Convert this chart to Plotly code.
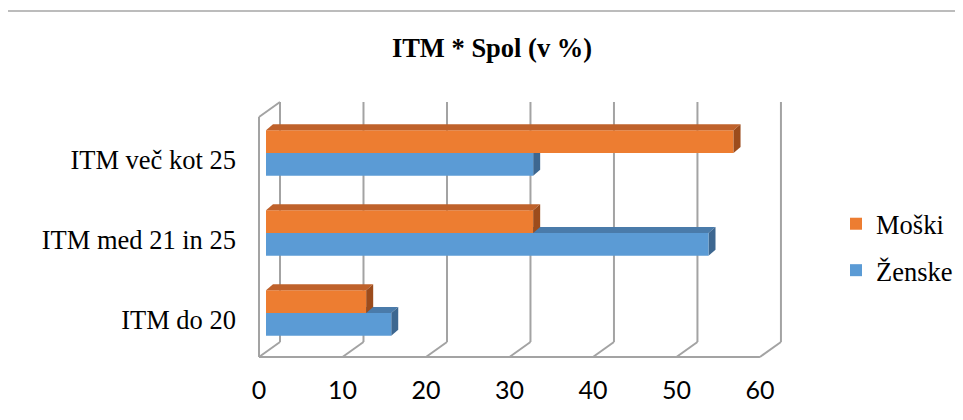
import plotly.graph_objects as go

# ---------------- data ----------------
categories = ["ITM do 20", "ITM med 21 in 25", "ITM več kot 25"]
moski = [12, 32, 56]
zenske = [15, 53, 32]
x_ticks = [0, 10, 20, 30, 40, 50, 60]
series_names = ["Moški", "Ženske"]
title_text = "ITM * Spol (v %)"

# ---------------- geometry (page pixels -> figure / axis units) ----------------
OFF = 8                      # page body margin
W, H = 963 - OFF, 420 - OFF
ML, MR = 253 - OFF, 173
MT, MB = 98 - OFF, 59
PPX = 8.349                  # pixels per x unit
PPY = 80.0                   # pixels per category
plot_w = W - ML - MR
plot_h = H - MT - MB
x0 = -6 / PPX
x1 = x0 + plot_w / PPX
y_top = 2.725 + 4 / PPY
y_bot = y_top - plot_h / PPY

FLOOR_DX = 21 / PPX
FLOOR_DY = 15 / PPY
BAR_BASE = 7 / PPX
BAR_LIFT = 7 / PPY
FACE_DX = 7 / PPX
FACE_DY = 6 / PPY
BAR_W = 22.7 / PPY

y_front_floor = -0.4625
y_wall_top = y_front_floor + 240 / PPY

ORANGE, ORANGE_TOP, ORANGE_SIDE = "#ED7D31", "#BF622B", "#9C4C1C"
BLUE, BLUE_TOP, BLUE_SIDE = "#5B9BD5", "#4A7BAA", "#3D6790"
GRID = "#A3A3A3"

fig = go.Figure()
bar_y = [i + BAR_LIFT for i in range(len(categories))]
fig.add_trace(go.Bar(y=bar_y, x=zenske, base=BAR_BASE, orientation="h", name=series_names[1],
                     marker=dict(color=BLUE, line=dict(width=0)), legendrank=2, legendgroup="z"))
fig.add_trace(go.Bar(y=bar_y, x=moski, base=BAR_BASE, orientation="h", name=series_names[0],
                     marker=dict(color=ORANGE, line=dict(width=0)), legendrank=1, legendgroup="m"))

shapes = []
line = dict(color=GRID, width=2)
for v in x_ticks:
    shapes.append(dict(type="line", xref="x", yref="y", x0=v + FLOOR_DX, x1=v + FLOOR_DX,
                       y0=y_front_floor + FLOOR_DY, y1=y_wall_top + FLOOR_DY, line=line, layer="below"))
    shapes.append(dict(type="line", xref="x", yref="y", x0=v, x1=v + FLOOR_DX,
                       y0=y_front_floor, y1=y_front_floor + FLOOR_DY, line=line, layer="below"))
shapes.append(dict(type="line", xref="x", yref="y", x0=x_ticks[0], x1=x_ticks[-1],
                   y0=y_front_floor, y1=y_front_floor, line=line, layer="below"))
shapes.append(dict(type="line", xref="x", yref="y", x0=0, x1=0,
                   y0=y_front_floor, y1=y_wall_top, line=line, layer="below"))
shapes.append(dict(type="line", xref="x", yref="y", x0=0, x1=FLOOR_DX,
                   y0=y_wall_top, y1=y_wall_top + FLOOR_DY, line=line, layer="below"))


def faces(vals, center_shift, top_col, side_col, layer):
    out = []
    for i, v in enumerate(vals):
        yc = bar_y[i] + center_shift
        yb, yt = yc - BAR_W / 2, yc + BAR_W / 2
        xa, xb = BAR_BASE, BAR_BASE + v
        top = (f"M {xa},{yt} L {xa + FACE_DX},{yt + FACE_DY} L {xb + FACE_DX},{yt + FACE_DY} "
               f"L {xb},{yt} Z")
        side = (f"M {xb},{yb} L {xb},{yt} L {xb + FACE_DX},{yt + FACE_DY} "
                f"L {xb + FACE_DX},{yb + FACE_DY} Z")
        out.append(dict(type="path", xref="x", yref="y", path=top, fillcolor=top_col,
                        line=dict(width=0), layer=layer))
        out.append(dict(type="path", xref="x", yref="y", path=side, fillcolor=side_col,
                        line=dict(width=0), layer=layer))
    return out


shapes += faces(zenske, -BAR_W / 2, BLUE_TOP, BLUE_SIDE, "below")
shapes += faces(moski, BAR_W / 2, ORANGE_TOP, ORANGE_SIDE, "above")

# chart border (page pixel positions)
px2paper_x = lambda px: (px - OFF - ML) / plot_w
px2paper_y = lambda py: (H - MB - (py - OFF)) / plot_h
shapes.append(dict(type="rect", xref="paper", yref="paper",
                   x0=px2paper_x(7), x1=px2paper_x(1000), y0=px2paper_y(470), y1=px2paper_y(11),
                   line=dict(color="#A6A6A6", width=1.5), fillcolor="rgba(0,0,0,0)", layer="below"))

fig.update_layout(
    width=W, height=H,
    margin=dict(l=ML, r=MR, t=MT, b=MB, autoexpand=False),
    paper_bgcolor="white", plot_bgcolor="white",
    barmode="group", bargap=1 - 2 * BAR_W, bargroupgap=0,
    shapes=shapes,
    title=dict(text=f"<b>{title_text}</b>", xref="container", x=(492 - OFF) / W, xanchor="center",
               yref="container", y=1 - (48 - OFF) / H, yanchor="middle",
               font=dict(family="Liberation Serif", size=26.5, color="black")),
    xaxis=dict(range=[x0, x1], tickvals=x_ticks, showgrid=False, zeroline=False, showline=False,
               ticks="", tickfont=dict(family="Lato", size=25, color="black"), ticklabelstandoff=12,
               fixedrange=True),
    yaxis=dict(range=[y_bot, y_top], tickvals=list(range(len(categories))), ticktext=categories,
               showgrid=False, zeroline=False, showline=False, ticks="",
               tickfont=dict(family="Liberation Serif", size=26.5, color="black"),
               ticklabelstandoff=16, fixedrange=True),
    legend=dict(xref="container", yref="container", x=(836 - OFF) / W, y=1 - (200 - OFF) / H,
                xanchor="left", yanchor="top",
                font=dict(family="Liberation Serif", size=26.5, color="black"),
                bgcolor="rgba(0,0,0,0)", itemwidth=30, traceorder="grouped", tracegroupgap=9),
    showlegend=True,
)

fig.write_html("out.html")
